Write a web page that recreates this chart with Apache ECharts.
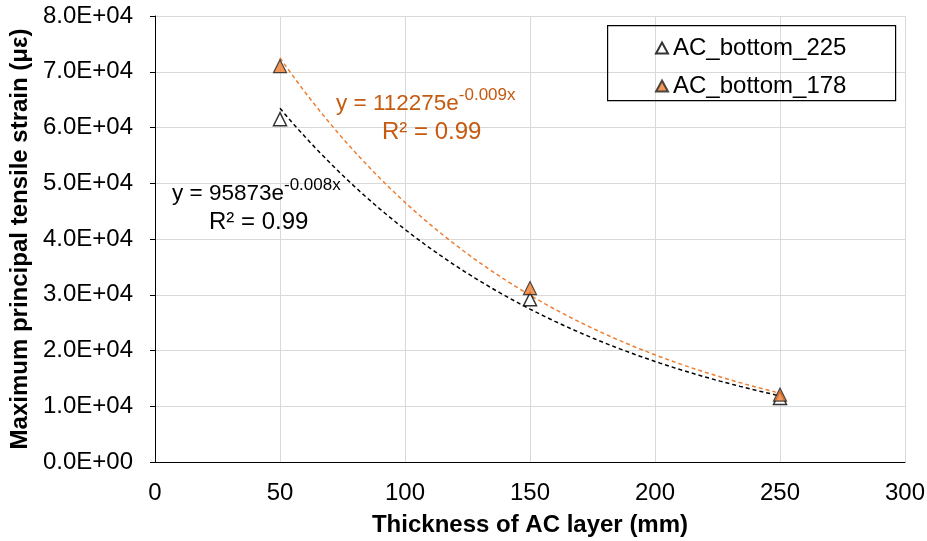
<!DOCTYPE html>
<html><head><meta charset="utf-8">
<script src="https://cdn.jsdelivr.net/npm/echarts@6/dist/echarts.min.js"></script>
<style>html,body{margin:0;padding:0;background:#fff}#c{width:927px;height:541px}</style>
</head><body><div id="c"></div>
<script>
var thickness = [50, 150, 250];
var bottom225 = [61500, 29200, 11500];
var bottom178 = [71000, 31200, 12100];
var seriesNames = ['AC_bottom_225', 'AC_bottom_178'];

function expFit(xs, ys) {
  var n = xs.length, sx = 0, sy = 0, sxx = 0, sxy = 0;
  for (var i = 0; i < n; i++) { var ly = Math.log(ys[i]); sx += xs[i]; sy += ly; sxx += xs[i]*xs[i]; sxy += xs[i]*ly; }
  var b = (n*sxy - sx*sy) / (n*sxx - sx*sx);
  var a = Math.exp((sy - b*sx)/n);
  return {a: a, b: b};
}
function trend(xs, ys) {
  var f = expFit(xs, ys), pts = [];
  for (var x = xs[0]; x <= xs[xs.length-1]; x += 2) pts.push([x, f.a*Math.exp(f.b*x)]);
  return pts;
}
function pairs(xs, ys) { return xs.map(function (x, i) { return [x, ys[i]]; }); }

var ORANGE = '#ED7D31';
var DARKOR = '#C55A11';
var FONT = 'Liberation Sans, Arial, sans-serif';
var chart = echarts.init(document.getElementById('c'));
chart.setOption({
  animation: false,
  textStyle: {fontFamily: FONT},
  grid: {left: 155, right: 22, top: 16, bottom: 79, outerBoundsMode: 'none', containLabel: false},
  xAxis: {
    type: 'value', min: 0, max: 300, interval: 50,
    name: 'Thickness of AC layer (mm)', nameLocation: 'middle', nameGap: 51,
    nameTextStyle: {fontSize: 24, fontWeight: 'bold', color: '#000', fontFamily: FONT},
    axisLine: {show: true, lineStyle: {color: '#000', width: 1}},
    axisTick: {show: false},
    axisLabel: {fontSize: 24, color: '#000', margin: 19, fontFamily: FONT},
    splitLine: {show: true, lineStyle: {color: '#d9d9d9', width: 1}}
  },
  yAxis: {
    type: 'value', min: 0, max: 80000, interval: 10000,
    name: 'Maximum principal tensile strain (με)', nameLocation: 'middle', nameGap: 123,
    nameTextStyle: {fontSize: 24, fontWeight: 'bold', color: '#000', fontFamily: FONT},
    axisLine: {show: true, lineStyle: {color: '#000', width: 1}},
    axisTick: {show: true, length: 5, lineStyle: {color: '#000'}},
    axisLabel: {fontSize: 24, color: '#000', margin: 22, fontFamily: FONT,
      formatter: function (v) {
        var e = v === 0 ? 0 : Math.floor(Math.log10(v));
        var m = v / Math.pow(10, e);
        var es = (e < 10 ? '0' : '') + e;
        return m.toFixed(1) + 'E+' + es;
      }},
    splitLine: {show: true, lineStyle: {color: '#d9d9d9', width: 1}}
  },
  legend: {
    data: seriesNames, orient: 'vertical', left: 650, top: 31, itemGap: 14,
    itemWidth: 12, itemHeight: 11,
    textStyle: {fontSize: 24, color: '#000', fontFamily: FONT}
  },
  graphic: [
    {type: 'rect', left: 607, top: 25, shape: {width: 288, height: 75}, style: {fill: 'rgba(0,0,0,0)', stroke: '#000', lineWidth: 1.2}, z: 100},
    {type: 'text', left: 172, top: 177, z: 100, style: {
      text: '{m|y = 95873e}{s|-0.008x}', rich: {m: {fontSize: 22.5, fill: '#000', fontFamily: FONT, lineHeight: 28, verticalAlign: 'bottom'}, s: {fontSize: 17, fill: '#000', fontFamily: FONT, lineHeight: 28, verticalAlign: 'top'}}}},
    {type: 'text', left: 209, top: 210, z: 100, style: {text: 'R² = 0.99', fontSize: 24, fill: '#000', fontFamily: FONT}},
    {type: 'text', left: 336, top: 87, z: 100, style: {
      text: '{m|y = 112275e}{s|-0.009x}', rich: {m: {fontSize: 22.5, fill: DARKOR, fontFamily: FONT, lineHeight: 28, verticalAlign: 'bottom'}, s: {fontSize: 17, fill: DARKOR, fontFamily: FONT, lineHeight: 28, verticalAlign: 'top'}}}},
    {type: 'text', left: 382, top: 120, z: 100, style: {text: 'R² = 0.99', fontSize: 24, fill: DARKOR, fontFamily: FONT}}
  ],
  series: [
    {name: 'trend225', type: 'line', data: trend(thickness, bottom225), showSymbol: false, symbol: 'none', silent: true,
      lineStyle: {color: '#000', width: 1.5, type: [4, 3]}, z: 2},
    {name: 'trend178', type: 'line', data: trend(thickness, bottom178), showSymbol: false, symbol: 'none', silent: true,
      lineStyle: {color: ORANGE, width: 1.5, type: [4, 3]}, z: 2},
    {name: seriesNames[0], type: 'scatter', data: pairs(thickness, bottom225), symbol: 'triangle', symbolSize: 13,
      itemStyle: {color: '#fff', borderColor: '#000', borderWidth: 1.5}, z: 5},
    {name: seriesNames[1], type: 'scatter', data: pairs(thickness, bottom178), symbol: 'triangle', symbolSize: 13,
      itemStyle: {color: ORANGE, borderColor: '#222', borderWidth: 1.2}, z: 6}
  ]
});
</script></body></html>
